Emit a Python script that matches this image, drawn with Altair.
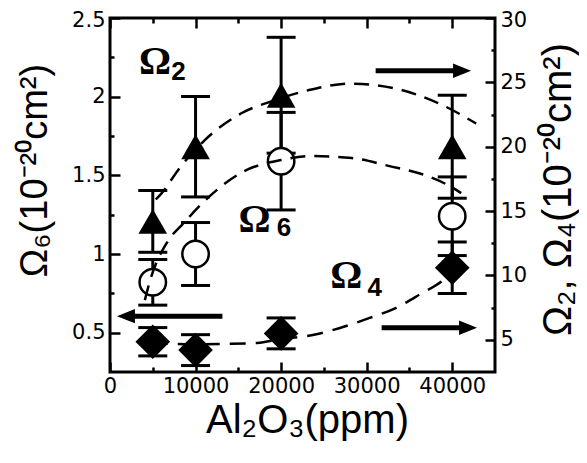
import altair as alt
import pandas as pd

# ---------------- data ----------------
x_ppm = [5000, 10000, 20000, 40000]
omega2 = [14.2, 20.0, 24.0, 20.0]
omega2_err = [2.4, 3.9, 4.5, 4.0]
omega6 = [0.82, 1.0, 1.59, 1.24]
omega6_err = [0.145, 0.2, 0.31, 0.25]
omega4 = [4.85, 4.2, 5.5, 10.6]
omega4_err = [1.1, 1.2, 1.2, 2.0]

fit2_x = [5350, 6050, 8140, 11050, 15350, 19190, 23260, 28150, 33500, 38960, 42800]
fit2_y = [15.9, 16.4, 18.35, 20.5, 22.6, 23.6, 24.4, 24.9, 24.5, 23.2, 21.8]
fit6_x = [4070, 4770, 6630, 8720, 10700, 15700, 20000, 23500, 28260, 32560, 36870, 40120, 41050]
fit6_y = [0.707, 0.847, 1.07, 1.203, 1.318, 1.527, 1.597, 1.623, 1.61, 1.56, 1.50, 1.419, 1.387]
fit4_x = [4880, 10000, 13600, 17200, 20000, 23700, 26870, 30350, 33380, 36290, 38960, 40000]
fit4_y = [4.75, 4.65, 4.68, 4.75, 5.06, 5.37, 5.92, 6.7, 7.47, 8.56, 9.65, 10.27]

# arrows: shaft start, shaft end, tip, level
arrowL_shaft = [2330, 13140]
arrowL_tip = 810
arrowL_y = 0.605           # left axis
arrowR_shaft = [[31050, 40680], [31750, 41380]]
arrowR_tip = [42200, 42900]
arrowR_y = [25.9, 5.94]    # right axis

# annotation labels (left-axis coordinates)
lab_omega_x = [5250, 16900, 27630]
lab_omega_y = [2.22, 1.216, 0.86]
lab_sub_x = [8000, 20350, 30950]
lab_sub_y = [2.157, 1.165, 0.784]
lab_sub_text = ["2", "6", "4"]

x_ticks = [0, 5000, 10000, 15000, 20000, 25000, 30000, 35000, 40000]
yl_ticks = [0.5, 0.75, 1.0, 1.25, 1.5, 1.75, 2.0, 2.25, 2.5]
yr_ticks = [5, 7.5, 10, 12.5, 15, 17.5, 20, 22.5, 25, 27.5, 30]

# ---------------- scales & axes ----------------
x_scale = alt.Scale(domain=[0, 45000], nice=False, zero=False)
l_scale = alt.Scale(domain=[0.25, 2.5], nice=False, zero=False)
r_scale = alt.Scale(domain=[2.5, 30], nice=False, zero=False)

LAB_FONT = "DejaVu Sans"
TITLE_FONT = "Liberation Sans"
TS = 10

x_minor = "datum.value % 10000 !== 0"
l_minor = "(datum.value * 2) % 1 !== 0"
r_minor = "datum.value % 5 !== 0"

common = dict(domain=False, grid=False, tickColor="black", tickWidth=2.5,
              tickSize=TS, offset=-TS, labelColor="black", labelFont=LAB_FONT,
              labelFontSize=21, labelFlush=False, labelOverlap=False,
              titleColor="black", titleFont=TITLE_FONT, titleFontWeight="normal")

axis_bottom = alt.Axis(
    orient="bottom", values=x_ticks,
    tickDash={"condition": {"test": x_minor, "value": [0, 5, 5]}, "value": [20, 0]},
    labelExpr=f"{x_minor} ? '' : format(datum.value, 'd')", labelPadding=3,
    title="Al₂O₃(ppm)", titleFontSize=40, titleX=197, titleY=70,
    titleAlign="center", titleBaseline="alphabetic", **common)

axis_top = alt.Axis(
    orient="top", values=x_ticks, labels=False, title=None,
    tickDash={"condition": {"test": x_minor, "value": [0, 5, 5]}, "value": [20, 0]},
    **{k: v for k, v in common.items() if not k.startswith("label") and not k.startswith("title")})

axis_left = alt.Axis(
    orient="left", values=yl_ticks,
    tickDash={"condition": {"test": l_minor, "value": [0, 6, 4]}, "value": [20, 0]},
    labelExpr=f"{l_minor} ? '' : format(datum.value, '~g')", labelPadding=5,
    labelOffset={"condition": {"test": "datum.value === 2.5", "value": 2}, "value": 0},
    title="Ω₆(10⁻²⁰cm²)", titleFontSize=38, titleAngle=270, titleX=-85, titleY=152,
    titleAlign="center", titleBaseline="middle", **common)

axis_right = alt.Axis(
    orient="right", values=yr_ticks,
    tickDash={"condition": {"test": r_minor, "value": [0, 6, 4]}, "value": [20, 0]},
    labelExpr=f"{r_minor} ? '' : format(datum.value, '~g')", labelPadding=5,
    labelOffset={"condition": {"test": "datum.value === 30", "value": 2}, "value": 0},
    title="Ω₂, Ω₄(10⁻²⁰cm²)", titleFontSize=40, titleAngle=270, titleX=73, titleY=171,
    titleAlign="center", titleBaseline="middle", **common)


def X(field="x", axis=None):
    return alt.X(f"{field}:Q", scale=x_scale, axis=axis)


def Y(field, scale, axis=None):
    return alt.Y(f"{field}:Q", scale=scale, axis=axis)


def err_layers(mid, err, scale, xaxis=None, yaxis=None):
    df = pd.DataFrame({"x": x_ppm,
                       "lo": [m - e for m, e in zip(mid, err)],
                       "hi": [m + e for m, e in zip(mid, err)]})
    c = alt.Chart(df)
    rule = c.mark_rule(color="black", strokeWidth=3).encode(
        x=X(axis=xaxis), y=Y("lo", scale, yaxis), y2="hi:Q")
    lo = c.mark_tick(color="black", orient="horizontal", size=29, thickness=3, opacity=1).encode(
        x=X(), y=Y("lo", scale))
    hi = c.mark_tick(color="black", orient="horizontal", size=29, thickness=3, opacity=1).encode(
        x=X(), y=Y("hi", scale))
    return [rule, lo, hi]


pts = pd.DataFrame({"x": x_ppm, "o2": omega2, "o6": omega6, "o4": omega4})

layers = []
layers += err_layers(omega2, omega2_err, r_scale, axis_top, axis_right)
layers += err_layers(omega4, omega4_err, r_scale)
layers += err_layers(omega6, omega6_err, l_scale, axis_bottom, axis_left)

circles = alt.Chart(pts).mark_point(shape="circle", size=700, filled=True, fill="white",
                                    stroke="black", strokeWidth=2.5, opacity=1).encode(
    x=X(), y=Y("o6", l_scale))
tris = alt.Chart(pts).mark_point(shape="triangle-up", size=820, filled=True, color="black",
                                 opacity=1).encode(x=X(), y=Y("o2", r_scale))
dias = alt.Chart(pts).mark_point(shape="diamond", size=1200, filled=True, color="black",
                                 opacity=1).encode(x=X(), y=Y("o4", r_scale))
layers += [circles, tris, dias]


def curve(xs, ys, scale, dash):
    df = pd.DataFrame({"x": xs, "y": ys})
    return alt.Chart(df).mark_line(color="black", strokeWidth=2.5, strokeDash=dash,
                                   interpolate="monotone").encode(x=X(), y=Y("y", scale))


layers += [curve(fit6_x, fit6_y, l_scale, [15, 9]),
           curve(fit2_x, fit2_y, r_scale, [15, 9]),
           curve(fit4_x, fit4_y, r_scale, [16, 10])]

# arrows
aL = pd.DataFrame({"x": [arrowL_shaft[0]], "x2": [arrowL_shaft[1]], "y": [arrowL_y], "tip": [arrowL_tip]})
layers.append(alt.Chart(aL).mark_rule(color="black", strokeWidth=5).encode(
    x=X(), x2="x2:Q", y=Y("y", l_scale)))
layers.append(alt.Chart(aL).mark_point(shape="M0,0L2,-0.8L2,0.8Z", size=324, filled=True,
                                       color="black", opacity=1, strokeWidth=0).encode(
    x=X("tip"), y=Y("y", l_scale)))
aR = pd.DataFrame({"x": [s[0] for s in arrowR_shaft], "x2": [s[1] for s in arrowR_shaft],
                   "y": arrowR_y, "tip": arrowR_tip})
layers.append(alt.Chart(aR).mark_rule(color="black", strokeWidth=5).encode(
    x=X(), x2="x2:Q", y=Y("y", r_scale)))
layers.append(alt.Chart(aR).mark_point(shape="M0,0L-2,-0.8L-2,0.8Z", size=324, filled=True,
                                       color="black", opacity=1, strokeWidth=0).encode(
    x=X("tip"), y=Y("y", r_scale)))

# labels
lo_df = pd.DataFrame({"x": lab_omega_x, "y": lab_omega_y, "t": ["Ω", "Ω", "Ω"]})
layers.append(alt.Chart(lo_df).mark_text(font="Liberation Serif", fontSize=40, fontWeight="bold",
                                         color="black", align="center", baseline="middle").encode(
    x=X(), y=Y("y", l_scale), text="t:N"))
ls_df = pd.DataFrame({"x": lab_sub_x, "y": lab_sub_y, "t": lab_sub_text})
layers.append(alt.Chart(ls_df).mark_text(font="Liberation Sans", fontSize=26, fontWeight="bold",
                                         color="black", align="center", baseline="middle").encode(
    x=X(), y=Y("y", l_scale), text="t:N"))

chart = alt.layer(*layers).resolve_scale(y="independent").resolve_axis(
    x="independent", y="independent").properties(
    width=385, height=354,
    autosize=alt.AutoSizeParams(type="none"),
    padding={"left": 102, "top": 10, "right": 84, "bottom": 80},
).configure_view(stroke="black", strokeWidth=3)

chart.save("out.html", embed_options={"renderer": "svg", "actions": False})
